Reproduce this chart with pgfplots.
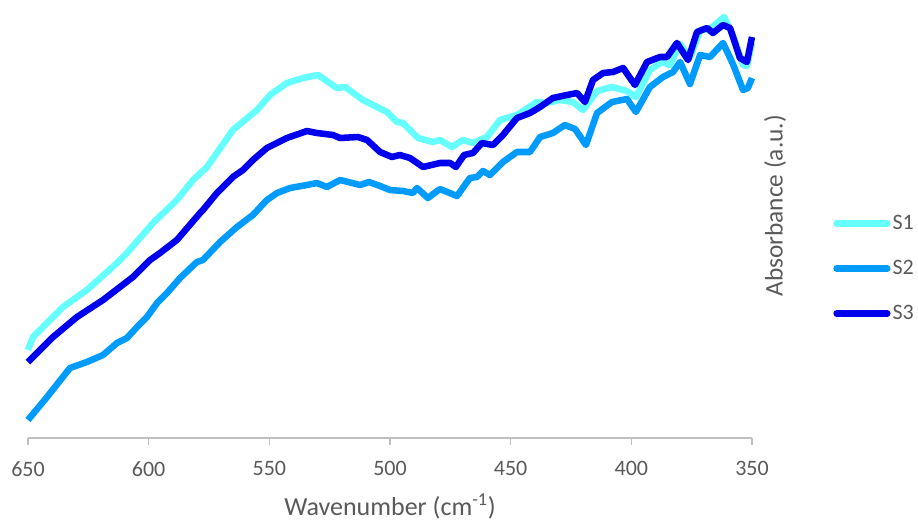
\documentclass[border=0pt]{standalone}
\usepackage{pgfplots}
\pgfplotsset{compat=1.18}
\usepackage{fontspec}
\setmainfont{Carlito}
\definecolor{cS1}{RGB}{102,255,255}
\definecolor{cS2}{RGB}{0,155,255}
\definecolor{cS3}{RGB}{0,0,238}
\definecolor{txt}{RGB}{89,89,89}
\definecolor{axl}{RGB}{191,191,191}
\begin{document}
\begin{tikzpicture}
\useasboundingbox (-21pt,-63pt) rectangle (667.5pt,328.5pt);
\begin{axis}[
  at={(0pt,0pt)}, anchor=south west,
  scale only axis, width=543pt, height=322.5pt,
  xmin=350, xmax=650, ymin=0, ymax=430,
  x dir=reverse,
  axis x line*=bottom, axis y line*=right,
  y axis line style={draw=none}, ytick=\empty,
  xtick={350,400,450,500,550,600,650},
  tick align=outside, major tick length=5pt,
  x axis line style={draw=axl, line width=1.2pt},
  xtick style={draw=axl, line width=1pt},
  /pgf/number format/assume math mode=true,
  xticklabel style={font=\fontsize{16.5}{18}\selectfont, text=txt, yshift=-9pt},
  xlabel={Wavenumber (cm\textsuperscript{-1})},
  xlabel style={font=\fontsize{19.5}{22}\selectfont, text=txt, yshift=-6pt},
  ylabel={Absorbance (a.u.)},
  every axis y label/.style={at={(axis description cs:1.032,0.54)}, rotate=90, anchor=center, font=\fontsize{19}{22}\selectfont, text=txt},
  clip=false,
  legend image code/.code={\draw[#1, line cap=round] (0pt,0pt) -- (38pt,0pt);},
  legend style={at={(axis description cs:1.112,0.523)}, anchor=north west, draw=none, fill=none,
     font=\fontsize{16.5}{18}\selectfont, text=txt, row sep=18.5pt, inner sep=0pt,
     nodes={inner sep=1.5pt}},
  every axis plot/.append style={line width=4.9pt, line join=round},
]
\addplot[cS1] coordinates {
(650,88) (647.9,101) (639.6,121) (635.5,131) (625.6,148) (613.1,175) (609.0,185)
(598.2,215) (588.3,238) (581.6,258) (575.8,271) (565.1,308) (555.1,328) (549.7,343)
(542.7,355) (536.0,360) (529.8,363) (522.0,350) (518.6,351) (511.2,338) (505.4,331)
(501.2,326) (497.1,316) (494.6,315) (488.4,300) (482.2,296) (479.3,298) (474.3,291)
(469.8,298) (465.6,295) (459.8,301) (454.4,318) (447.4,323) (439.1,336) (435.0,335)
(429.6,338) (424.2,336) (420.0,328) (414.2,347) (408.0,351) (401.8,347) (398.1,341)
(392.3,368) (387.3,376) (384.0,373) (379.8,394) (375.7,380) (371.5,408) (367.4,409)
(361.6,421) (357.9,403) (353.7,373) (352.1,372) (350,395)
};
\addlegendentry{S1}
\addplot[cS2] coordinates {
(650,18) (642.1,41) (632.6,70) (625.6,76) (618.9,83) (613.1,95) (609.0,100)
(604.8,111) (600.7,121) (596.5,135) (592.4,145) (587.0,160) (580.0,176) (577.5,178)
(570.4,196) (563.4,211) (556.8,223) (551.0,238) (546.8,245) (541.4,250) (534.4,253)
(530.3,255) (526.1,251) (520.7,258) (512.4,253) (508.7,256) (504.1,252) (500.0,248)
(494.6,247) (490.5,245) (488.8,250) (484.3,240) (479.3,249) (472.2,242) (466.9,260)
(464.0,261) (461.5,267) (458.6,263) (453.2,276) (447.4,286) (442.0,286) (437.8,301)
(432.5,305) (427.5,313) (423.3,309) (418.8,293) (414.2,325) (408.0,336) (401.8,339)
(398.1,326) (392.3,351) (386.9,361) (382.7,366) (379.8,376) (375.7,354) (371.5,383)
(367.4,381) (362.0,395) (357.9,374) (353.7,348) (351.7,350) (350,360)
};
\addlegendentry{S2}
\addplot[cS3] coordinates {
(650,76) (639.6,101) (629.7,121) (618.9,138) (611.9,151) (606.5,161) (599.4,178)
(595.3,185) (588.3,198) (578.7,225) (577.5,228) (571.7,245) (565.1,261) (560.9,268)
(556.8,278) (551.0,290) (542.7,300) (534.4,307) (530.3,305) (523.6,303) (520.7,300)
(513.3,301) (509.5,298) (504.1,286) (499.2,281) (495.9,283) (491.7,280) (486.3,271)
(479.3,275) (475.1,275) (472.7,271) (469.3,283) (465.6,285) (461.9,295) (457.3,293)
(453.2,303) (447.4,320) (442.0,325) (437.8,331) (432.5,340) (426.7,343) (422.5,345)
(419.2,336) (415.9,358) (411.7,365) (407.6,366) (403.4,370) (398.5,353) (393.5,376)
(388.1,381) (385.2,381) (381.1,395) (376.5,378) (372.8,406) (368.6,410) (366.2,405)
(362.0,413) (359.1,410) (355.0,380) (352.1,376) (350,401)
};
\addlegendentry{S3}
\end{axis}
\end{tikzpicture}
\end{document}
